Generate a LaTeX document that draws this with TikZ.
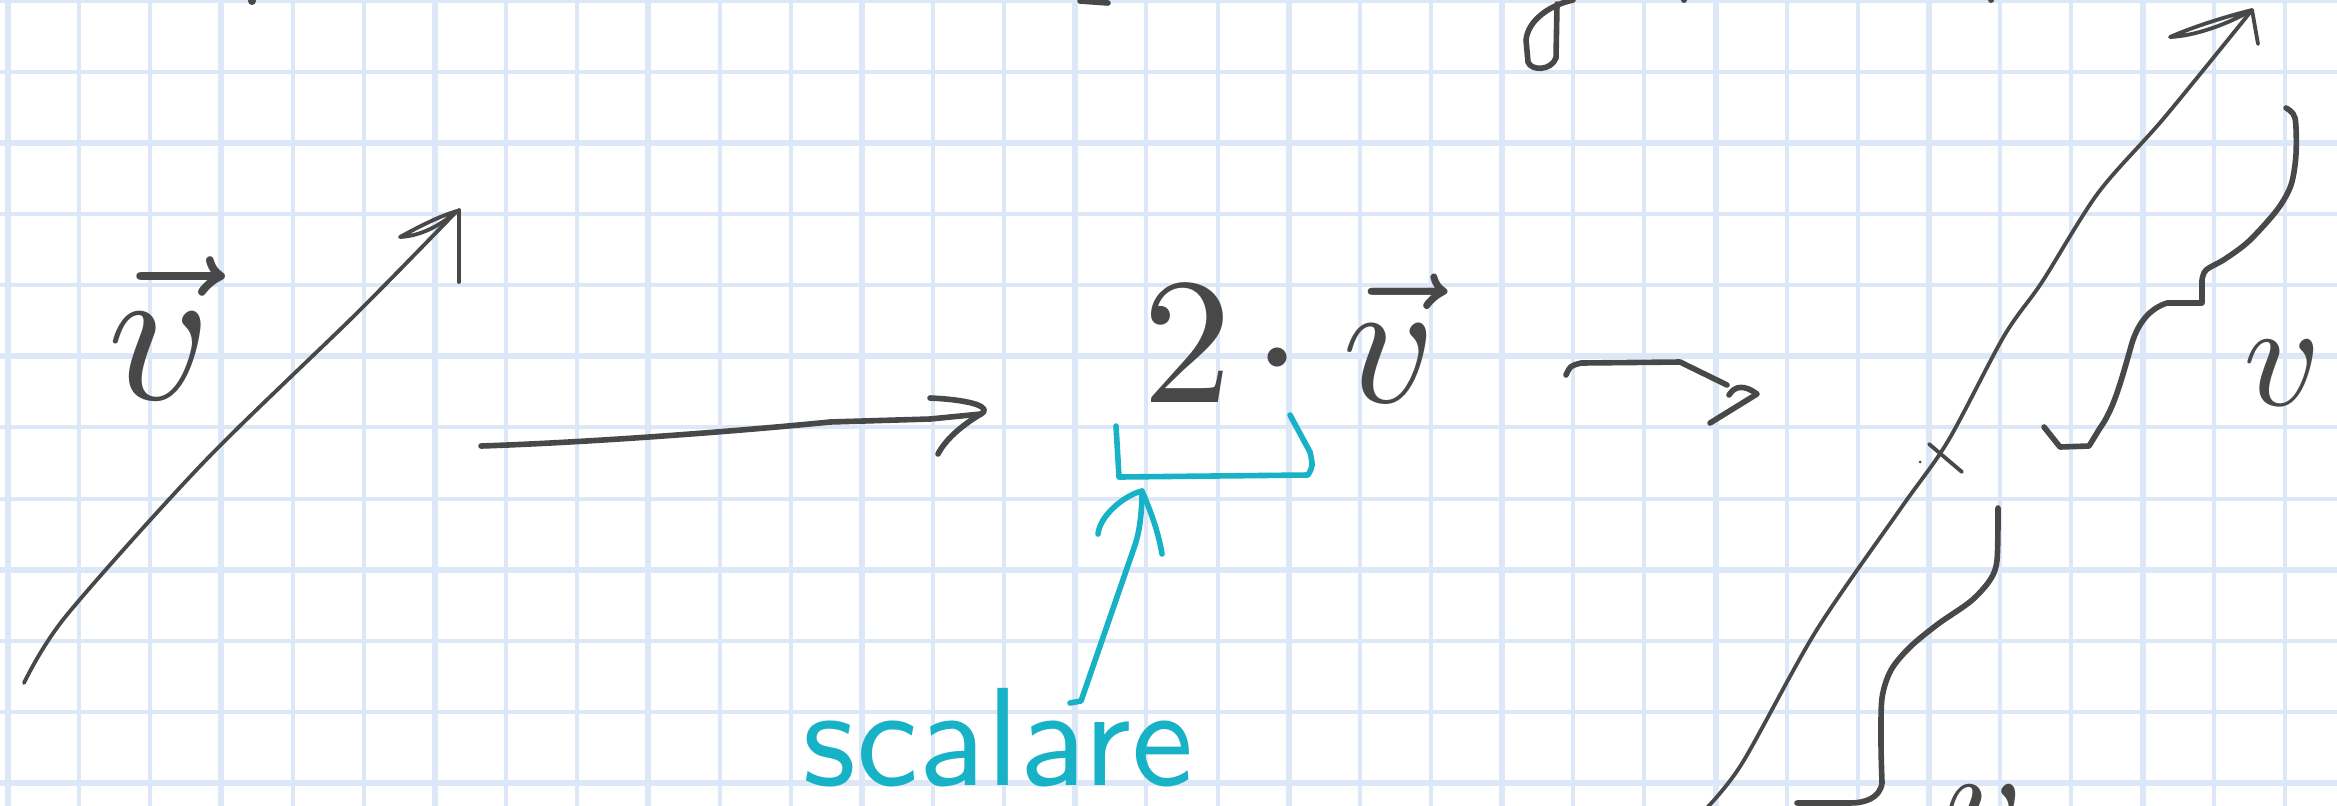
\documentclass[tikz,border=0pt]{standalone}
\usepackage{fontspec}
\definecolor{gridblue}{RGB}{220,232,248}
\definecolor{ink}{RGB}{72,72,72}
\definecolor{scyan}{RGB}{24,178,198}
\begin{document}
\begin{tikzpicture}[x=0.5pt,y=-0.5pt,line cap=round,line join=round,
  gridline/.style={gridblue},
  pen/.style={ink,line width=2.8pt},
  finepen/.style={ink,line width=1.9pt},
  cyanpen/.style={scyan,line width=2.8pt},
  label/.style={inner sep=0pt,outer sep=0pt}]
\fill[white] (0,0) rectangle (2337,805);
\clip (0,0) rectangle (2337,805);
% grid
\foreach \k in {0,...,32}{
  \pgfmathsetmacro\lw{ifthenelse(mod(\k,3)==0,3,2)}
  \draw[gridline,line width=\lw pt] ({8+71.15*\k},0) -- ({8+71.15*\k},805);
}
\foreach \k in {0,...,11}{
  \pgfmathsetmacro\lw{ifthenelse(mod(\k,3)==2,3,2)}
  \draw[gridline,line width=\lw pt] (0,{0.8+71.1*\k}) -- (2337,{0.8+71.1*\k});
}
% top fragments
\draw[pen] (1573,0) .. controls (1550,5) and (1528,20) .. (1526,40) -- (1528,62) .. controls (1531,71) and (1551,71) .. (1556,58) -- (1557,4);
\fill[ink] (252,1) circle (4);
\draw[pen] (1080,1) -- (1108,3);
\fill[ink] (1684,0) circle (3);
\fill[ink] (1991,0) circle (3);
% left vector
\coordinate (a1s) at (24,683);
\coordinate (a1t) at (457,211);
\draw[finepen] plot[smooth] coordinates {(a1s) (66,616) (204,462) (357,313) (a1t)};
\draw[finepen] (400,237) .. controls (420,226) and (440,216) .. (a1t) .. controls (440,226) and (420,236) .. (400,237);
\draw[finepen] (459,210) -- (459,282);
\node[label,ink,scale=10,anchor=base] (lv) at (160,399) {$\vec{v}$};
% first horizontal arrow
\coordinate (h1s) at (481,446);
\coordinate (h1e) at (981,414);
\draw[pen] (h1s) .. controls (600,442) and (750,430) .. (830,422) -- (930,419) -- (h1e);
\draw[pen] (930,398) .. controls (975,400) and (992,408) .. (h1e) .. controls (962,425) and (945,440) .. (938,454);
% 2 . v
\node[label,ink,scale=9,anchor=base west] (sv) at (1142,402) {$2\mkern2mu{\cdot}\mkern4mu\vec{v}$};
% cyan bracket and arrow
\draw[cyanpen] (1116,426) -- (1119,477) -- (1308,475) .. controls (1313,466) .. (1310,452) -- (1290,415);
\coordinate (cs) at (1070,703);
\coordinate (ct) at (1142,491);
\draw[cyanpen] (cs) -- (1081,701) -- (1135,545) .. controls (1140,530) and (1142,510) .. (ct);
\draw[cyanpen] (1098,534) .. controls (1100,515) and (1125,495) .. (ct) .. controls (1150,510) and (1158,530) .. (1162,554);
\node[label,scyan,scale=7,anchor=base,font=\sffamily] (sc) at (998,785) {scalare};
% second horizontal arrow
\coordinate (h2s) at (1566,375);
\coordinate (h2e) at (1757,394);
\draw[pen] (h2s) .. controls (1570,366) .. (1581,363) -- (1680,362) -- (1727,385);
\draw[pen] (1729,395) .. controls (1735,385) and (1745,385) .. (h2e) -- (1710,423);
% long vector 2v
\coordinate (b1s) at (1700,815);
\coordinate (b1t) at (2252,10);
\draw[finepen] plot[smooth] coordinates {(b1s) (1741,765) (1816,631) (1901,508) (1948,441) (2004,336) (2042,282) (2098,193) (2164,118) (b1t)};
\draw[finepen] (2170,37) .. controls (2195,26) and (2228,16) .. (b1t) .. controls (2228,24) and (2195,36) .. (2170,37);
\draw[finepen] (b1t) -- (2258,44);
\draw[finepen] (1929,444) -- (1962,472);
\fill[ink] (1920,462) circle (1.5);
% upper brace
\draw[pen] plot[smooth] coordinates {(2286,108) (2295,118) (2296,154) (2291,185) (2277,210) (2249,241) (2225,259) (2206,270) (2202,280)} -- (2202,303) -- (2167,303) .. controls (2145,310) and (2135,330) .. (2130,350) .. controls (2120,385) and (2113,410) .. (2100,428) -- (2089,446) -- (2060,447) -- (2044,427);
\node[label,ink,scale=7.5,anchor=base] (rv) at (2283,405) {$v$};
% lower brace
\draw[pen] plot[smooth] coordinates {(1998,508) (1997,560) (1990,580) (1971,601) (1938,624) (1910,647) (1891,670) (1882,698) (1881,744) (1882,783)} .. controls (1880,798) and (1865,803) .. (1850,803) -- (1797,803);
\node[label,ink,scale=7.5,anchor=base] (bv) at (1985,850) {$v$};
\end{tikzpicture}
\end{document}
